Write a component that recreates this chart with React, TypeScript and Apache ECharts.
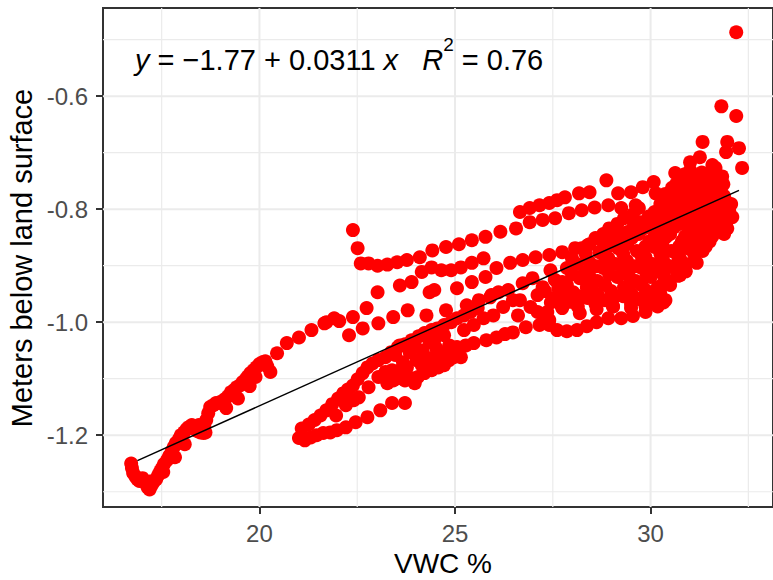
import React, { useEffect, useRef } from "react";
import * as echarts from "echarts";

type Pt = [number, number];

// ---- axes / scales ----
const xMajorBreaks = [20, 25, 30];
const xMinorBreaks = [17.5, 22.5, 27.5, 32.5];
const yMajorBreaks = [-1.2, -1.0, -0.8, -0.6];
const yMinorBreaks = [-1.3, -1.1, -0.9, -0.7, -0.5];
const xLimits: [number, number] = [16.0, 33.13];
const yLimits: [number, number] = [-1.327, -0.444];

const xTitle = "VWC %";
const yTitle = "Meters below land surface";

// ---- linear fit (from the annotation) ----
const fitIntercept = -1.77;
const fitSlope = 0.0311;
const fitXRange = [16.88, 32.26];

// ---- observations: [VWC %, metres below land surface] ----
const leftBranch: Pt[] = [
  [16.72, -1.25], [16.74, -1.258], [16.77, -1.267], [16.83, -1.273], [16.88, -1.278], [16.93, -1.281],
  [17.01, -1.276], [17.09, -1.285], [17.14, -1.292], [17.19, -1.296], [17.24, -1.289], [17.29, -1.283],
  [17.36, -1.278], [17.41, -1.271], [17.46, -1.264], [17.51, -1.258], [17.56, -1.251], [17.64, -1.244],
  [17.69, -1.237], [17.76, -1.228], [17.81, -1.221], [17.86, -1.214], [17.94, -1.207], [17.99, -1.2],
  [18.07, -1.195], [18.14, -1.189], [18.19, -1.186], [18.27, -1.182], [18.34, -1.189], [18.42, -1.193],
  [18.49, -1.195], [18.57, -1.196], [18.59, -1.184], [18.64, -1.173], [18.69, -1.161], [18.74, -1.15],
  [18.82, -1.147], [18.89, -1.143], [18.97, -1.143], [19.04, -1.14], [19.12, -1.136], [19.2, -1.131],
  [19.27, -1.124], [19.35, -1.12], [19.42, -1.115], [19.5, -1.112], [19.57, -1.106], [19.65, -1.101],
  [19.7, -1.096], [19.77, -1.09], [19.85, -1.085], [19.92, -1.08], [20.0, -1.074], [20.08, -1.071],
  [20.15, -1.069], [20.2, -1.078], [20.28, -1.088], [20.45, -1.055], [20.7, -1.037], [21.01, -1.027],
  [21.33, -1.014], [21.66, -1.002], [21.91, -0.993],
  [17.54, -1.265], [17.84, -1.239], [18.09, -1.216], [19.15, -1.152], [19.45, -1.135], [19.75, -1.113],
  [17.2, -1.282], [18.45, -1.182], [18.62, -1.195], [19.9, -1.097],
];

const topBranch: Pt[] = [
  [22.39, -0.837], [22.51, -0.869], [22.59, -0.896], [22.79, -0.896], [23.02, -0.9], [23.27, -0.898],
  [23.52, -0.894], [23.77, -0.89], [24.1, -0.885], [24.42, -0.873], [24.77, -0.867], [25.1, -0.862],
  [25.43, -0.855], [25.78, -0.849], [26.16, -0.84], [26.56, -0.834], [26.91, -0.823], [27.24, -0.819],
  [27.56, -0.816], [27.91, -0.807], [28.24, -0.802], [28.57, -0.797], [28.92, -0.793], [29.25, -0.798],
  [29.62, -0.793],
];

const topRow: Pt[] = [
  [26.66, -0.805], [26.91, -0.798], [27.16, -0.793], [27.41, -0.789], [27.61, -0.784], [27.81, -0.779],
  [28.17, -0.772], [28.44, -0.77], [28.87, -0.749], [29.17, -0.772], [29.5, -0.77], [29.8, -0.761],
  [30.08, -0.752], [30.13, -0.772],
];

const secondRow: Pt[] = [
  [24.15, -0.911], [24.4, -0.903], [24.65, -0.908], [24.9, -0.908], [25.15, -0.903], [25.43, -0.895],
  [25.73, -0.887], [26.06, -0.904], [26.41, -0.895], [26.73, -0.89], [27.06, -0.885], [27.41, -0.881],
  [27.74, -0.876], [28.07, -0.869], [28.39, -0.864], [28.74, -0.855], [29.07, -0.848], [29.42, -0.841],
  [29.75, -0.834], [30.08, -0.827],
];

const thirdRow: Pt[] = [
  [23.02, -0.947], [23.59, -0.935], [23.89, -0.929], [24.35, -0.947], [24.47, -0.943], [25.05, -0.94],
  [25.43, -0.929], [25.78, -0.92], [25.93, -0.952], [26.36, -0.943], [26.73, -0.931], [26.98, -0.922],
  [27.24, -0.938], [27.44, -0.908],
];

const fourthRow: Pt[] = [
  [21.71, -1.0], [22.04, -0.998], [22.29, -1.023], [22.39, -0.991], [22.64, -1.011], [22.74, -0.975],
  [23.04, -1.002], [23.42, -0.991], [23.79, -0.979], [24.27, -0.988], [24.77, -0.979], [25.3, -0.97],
  [25.9, -0.956], [26.23, -0.973], [26.66, -0.961], [26.93, -0.973],
  [25.61, -0.961], [26.11, -0.947], [26.48, -0.961], [27.11, -0.952], [25.98, -0.988], [26.61, -0.988],
  [27.11, -0.982],
];

const lowerBand: Pt[] = [
  [21.01, -1.205], [21.16, -1.209], [21.31, -1.204], [21.46, -1.2], [21.63, -1.196], [21.81, -1.195],
  [21.98, -1.191], [22.21, -1.186], [22.46, -1.177], [22.76, -1.168], [23.09, -1.156], [23.39, -1.143],
  [23.72, -1.143],
];

const diagonalBand: Pt[] = [
  [21.08, -1.188], [21.26, -1.181], [21.41, -1.173], [21.56, -1.165], [21.71, -1.156], [21.86, -1.145],
  [22.01, -1.135], [22.14, -1.126], [22.26, -1.119], [22.39, -1.112], [22.51, -1.101], [22.64, -1.09],
  [22.76, -1.08], [22.89, -1.073], [23.04, -1.067], [23.22, -1.062], [23.37, -1.053], [23.54, -1.044],
  [23.72, -1.039], [23.89, -1.032], [24.07, -1.025], [24.22, -1.019], [24.4, -1.014], [24.55, -1.011],
  [24.72, -1.005], [24.9, -1.0], [25.05, -0.993], [25.23, -0.988], [25.4, -0.982], [25.58, -0.975],
];

const parallelBand: Pt[] = [
  [21.96, -1.165], [22.21, -1.147], [22.41, -1.138], [22.54, -1.133], [22.79, -1.115], [23.04, -1.097],
  [23.22, -1.088], [23.39, -1.085], [23.54, -1.099], [23.72, -1.103], [23.89, -1.099], [24.05, -1.097],
  [24.22, -1.09], [24.4, -1.085], [24.57, -1.08], [24.72, -1.076], [24.85, -1.067], [24.97, -1.062],
  [25.15, -1.062],
];

const middleCluster: Pt[] = [
  [23.47, -1.058], [23.67, -1.071], [23.84, -1.053], [24.02, -1.067], [24.17, -1.05], [24.35, -1.064],
  [24.52, -1.046], [24.67, -1.058], [24.85, -1.041], [24.47, -1.032], [23.59, -1.085], [23.42, -1.103],
  [23.27, -1.108], [23.97, -1.108],
  [23.59, -1.041], [23.97, -1.041], [24.35, -1.035], [24.72, -1.023], [23.77, -1.08], [24.15, -1.076],
  [24.6, -1.067], [24.97, -1.05], [25.23, -1.014], [25.48, -1.005], [25.73, -0.993],
];

const lowerRightRow: Pt[] = [
  [25.05, -1.044], [25.28, -1.041], [25.48, -1.037], [25.8, -1.032], [26.06, -1.027], [26.28, -1.021],
  [26.48, -1.018], [26.81, -1.009], [27.16, -1.005], [27.41, -0.996],
];

const rightCluster: Pt[] = [
  [27.41, -1.005], [27.61, -1.014], [27.86, -1.016], [28.12, -1.014], [28.37, -1.007], [28.62, -1.0],
  [28.92, -0.993], [29.25, -0.993], [29.55, -0.989], [29.87, -0.982], [30.18, -0.972], [30.38, -0.961],
  [27.36, -0.982], [27.74, -0.975], [28.19, -0.984], [28.62, -0.977], [29.04, -0.972], [29.5, -0.975],
  [29.95, -0.966],
  [27.54, -0.957], [27.96, -0.964], [28.39, -0.957], [28.84, -0.961], [29.3, -0.954], [29.7, -0.959],
  [30.13, -0.95],
  [27.64, -0.94], [28.02, -0.947], [28.49, -0.938], [28.99, -0.945], [29.45, -0.938], [29.87, -0.943],
  [30.25, -0.94],
  [27.74, -0.929], [28.19, -0.922], [28.64, -0.927], [29.15, -0.92], [29.62, -0.927], [30.0, -0.92],
  [30.4, -0.926], [30.7, -0.918],
  [27.86, -0.904], [28.32, -0.911], [28.79, -0.904], [29.3, -0.91], [29.75, -0.903], [30.2, -0.91],
  [30.6, -0.904], [30.9, -0.91],
  [27.99, -0.887], [28.44, -0.894], [28.92, -0.887], [29.4, -0.892], [29.87, -0.885], [30.33, -0.892],
  [30.75, -0.887], [31.13, -0.892],
  [28.24, -0.869], [28.69, -0.876], [29.17, -0.869], [29.65, -0.874], [30.1, -0.867], [30.53, -0.874],
  [30.95, -0.869], [31.33, -0.874],
  [28.59, -0.851], [29.04, -0.858], [29.52, -0.851], [29.97, -0.857], [30.4, -0.849], [30.8, -0.857],
  [31.18, -0.851], [31.51, -0.857],
  [28.94, -0.834], [29.4, -0.841], [29.82, -0.834], [30.23, -0.839], [30.6, -0.832], [30.98, -0.839],
  [31.33, -0.834], [31.66, -0.839], [31.96, -0.834],
  [29.32, -0.816], [29.75, -0.823], [30.15, -0.816], [30.53, -0.821], [30.85, -0.814], [31.18, -0.821],
  [31.48, -0.816], [31.78, -0.821], [32.09, -0.814],
  [29.7, -0.798], [30.1, -0.805], [30.48, -0.798], [30.8, -0.803], [31.11, -0.796], [31.41, -0.803],
  [31.71, -0.798], [32.01, -0.803],
  [30.4, -0.78], [30.73, -0.787], [31.03, -0.78], [31.33, -0.787], [31.63, -0.78], [31.93, -0.787],
  [30.55, -0.762], [30.85, -0.769], [31.16, -0.762], [31.46, -0.769], [31.76, -0.762],
  [30.8, -0.745], [31.11, -0.752], [31.43, -0.745], [31.78, -0.75],
  [31.01, -0.731], [31.31, -0.735], [31.66, -0.727],
];

const rightClusterFill: Pt[] = [
  [27.69, -0.968], [28.14, -0.972], [28.59, -0.968], [29.04, -0.972], [29.5, -0.968], [29.87, -0.972],
  [27.74, -0.95], [28.19, -0.954], [28.64, -0.95], [29.1, -0.954], [29.52, -0.95], [29.92, -0.954],
  [30.25, -0.95],
  [27.86, -0.934], [28.37, -0.938], [28.84, -0.934], [29.32, -0.938], [29.77, -0.934], [30.18, -0.938],
  [30.5, -0.934],
  [27.99, -0.915], [28.44, -0.919], [28.94, -0.915], [29.45, -0.919], [29.9, -0.915], [30.35, -0.919],
  [30.7, -0.915],
  [28.12, -0.897], [28.62, -0.901], [29.1, -0.897], [29.6, -0.901], [30.05, -0.897], [30.5, -0.901],
  [30.9, -0.897],
  [28.34, -0.879], [28.82, -0.883], [29.3, -0.879], [29.77, -0.883], [30.25, -0.879], [30.7, -0.883],
  [31.11, -0.879],
  [28.44, -0.862], [28.92, -0.866], [29.4, -0.862], [29.87, -0.866], [30.3, -0.862], [30.73, -0.866],
  [31.11, -0.862], [31.41, -0.866],
  [28.79, -0.844], [29.25, -0.848], [29.7, -0.844], [30.1, -0.848], [30.5, -0.844], [30.88, -0.848],
  [31.26, -0.844], [31.58, -0.848], [31.88, -0.844],
  [29.15, -0.826], [29.57, -0.83], [29.97, -0.826], [30.38, -0.83], [30.73, -0.826], [31.03, -0.83],
  [31.33, -0.826], [31.63, -0.83], [31.93, -0.826],
  [29.55, -0.809], [29.95, -0.813], [30.3, -0.809], [30.65, -0.813], [30.95, -0.809], [31.26, -0.813],
  [31.56, -0.809], [31.86, -0.813],
  [30.25, -0.791], [30.58, -0.795], [30.88, -0.791], [31.18, -0.795], [31.48, -0.791], [31.78, -0.795],
  [32.06, -0.791],
  [30.38, -0.773], [30.68, -0.777], [30.98, -0.773], [31.28, -0.777], [31.58, -0.773], [31.88, -0.777],
  [30.65, -0.756], [30.95, -0.76], [31.26, -0.756], [31.56, -0.76], [31.86, -0.756],
  [30.88, -0.738], [31.18, -0.742], [31.51, -0.738], [31.83, -0.742],
  [27.3, -0.945], [27.45, -0.965], [27.55, -0.925], [27.28, -0.99],
];

const upperOutliers: Pt[] = [
  [32.19, -0.487], [31.81, -0.618], [32.19, -0.635], [31.33, -0.681], [31.96, -0.681], [32.26, -0.692],
  [32.34, -0.727], [31.26, -0.708], [31.01, -0.717], [30.63, -0.736], [31.58, -0.722], [31.93, -0.699],
  [32.01, -0.811], [31.68, -0.829], [31.18, -0.895], [30.75, -0.917], [30.33, -0.931], [30.33, -0.965],
];

const FONT = "'Liberation Sans', Arial, Helvetica, sans-serif";
const GRID_COLOR = "#EBEBEB";
const INK = "#333333";

export default function App() {
  const ref = useRef<HTMLDivElement>(null);

  useEffect(() => {
    if (!ref.current) return;
    const chart = echarts.init(ref.current, undefined, { renderer: "svg" });

    const points: Pt[] = [
      ...leftBranch, ...topBranch, ...topRow, ...secondRow, ...thirdRow, ...fourthRow,
      ...lowerBand, ...diagonalBand, ...parallelBand, ...middleCluster, ...lowerRightRow,
      ...rightCluster, ...rightClusterFill, ...upperOutliers,
    ];

    const vLine = (x: number, width: number) => ({
      type: "line",
      data: [[x, yLimits[0]], [x, yLimits[1]]],
      symbol: "none",
      silent: true,
      z: 1,
      lineStyle: { color: GRID_COLOR, width },
    });
    const hLine = (y: number, width: number) => ({
      type: "line",
      data: [[xLimits[0], y], [xLimits[1], y]],
      symbol: "none",
      silent: true,
      z: 1,
      lineStyle: { color: GRID_COLOR, width },
    });

    const fitData = fitXRange.map((x) => [x, fitIntercept + fitSlope * x]);

    const option: any = {
      animation: false,
      backgroundColor: "#FFFFFF",
      grid: {
        left: 103,
        top: 8,
        width: 682,
        height: 499,
        show: true,
        borderColor: INK,
        borderWidth: 2,
        backgroundColor: "transparent",
      },
      xAxis: {
        type: "value",
        min: xLimits[0],
        max: xLimits[1],
        axisLine: { show: false, onZero: false },
        splitLine: { show: false },
        axisTick: {
          show: true,
          customValues: xMajorBreaks,
          length: 7,
          lineStyle: { color: INK, width: 2 },
        },
        axisLabel: {
          customValues: xMajorBreaks,
          fontSize: 24,
          color: "#4D4D4D",
          margin: 14,
          fontFamily: FONT,
          formatter: (v: number) => String(v),
        },
      },
      yAxis: {
        type: "value",
        min: yLimits[0],
        max: yLimits[1],
        axisLine: { show: false, onZero: false },
        splitLine: { show: false },
        axisTick: {
          show: true,
          customValues: yMajorBreaks,
          length: 7,
          lineStyle: { color: INK, width: 2 },
        },
        axisLabel: {
          customValues: yMajorBreaks,
          fontSize: 24,
          color: "#4D4D4D",
          margin: 15,
          fontFamily: FONT,
          formatter: (v: number) => v.toFixed(1),
        },
      },
      series: [
        ...xMinorBreaks.map((x) => vLine(x, 1.2)),
        ...yMinorBreaks.map((y) => hLine(y, 1.2)),
        ...xMajorBreaks.map((x) => vLine(x, 2)),
        ...yMajorBreaks.map((y) => hLine(y, 2)),
        {
          type: "scatter",
          data: points,
          symbol: "circle",
          symbolSize: 14,
          z: 3,
          itemStyle: { color: "#FF0000", opacity: 1 },
          silent: true,
        },
        {
          type: "line",
          data: fitData,
          symbol: "none",
          z: 4,
          silent: true,
          lineStyle: { color: "#000000", width: 1.5 },
        },
      ],
      graphic: [
        {
          type: "text",
          x: 22,
          y: 258,
          rotation: Math.PI / 2,
          style: {
            text: yTitle,
            fontSize: 29,
            lineHeight: 30,
            fontFamily: FONT,
            fill: "#000000",
            align: "center",
            verticalAlign: "middle",
          },
        },
        {
          type: "text",
          x: 443,
          y: 563,
          style: {
            text: xTitle,
            fontSize: 28,
            lineHeight: 24,
            fontFamily: FONT,
            fill: "#000000",
            align: "center",
            verticalAlign: "middle",
          },
        },
        {
          type: "text",
          x: 135,
          y: 60,
          z: 10,
          style: {
            text: "{i|y} = \u22121.77 + 0.0311 {i|x}   {i|R}{s|2} = 0.76",
            fontSize: 29,
            fontFamily: FONT,
            fill: "#000000",
            align: "left",
            verticalAlign: "middle",
            rich: {
              i: { fontStyle: "italic", fontSize: 29, fontFamily: FONT, fill: "#000000" },
              s: { fontSize: 19, fontFamily: FONT, fill: "#000000", padding: [0, 0, 31, 0] },
            },
          },
        },
      ],
    };

    chart.setOption(option);
    return () => chart.dispose();
  }, []);

  return (
    <div
      ref={ref}
      style={{ position: "absolute", left: 0, top: 0, width: 773, height: 580 }}
    />
  );
}
